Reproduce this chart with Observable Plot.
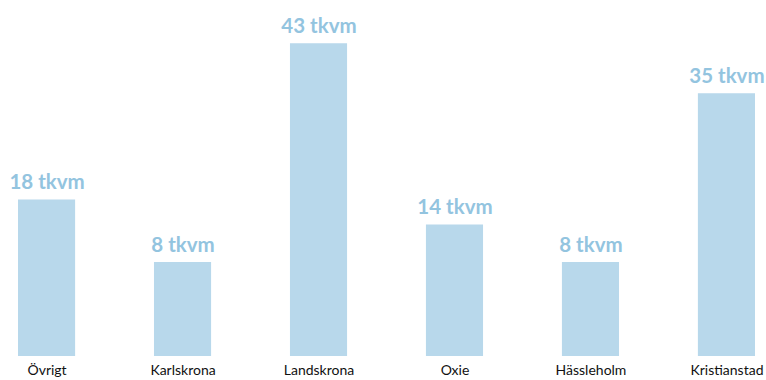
<!DOCTYPE html>
<html>
<head>
<meta charset="utf-8">
<script src="https://cdn.jsdelivr.net/npm/d3@7"></script>
<script src="https://cdn.jsdelivr.net/npm/@observablehq/plot@0.6"></script>
<style>
  html, body { margin: 0; padding: 0; background: #fff; }
  #chart svg { display: block; }
</style>
</head>
<body>
<div id="chart"></div>
<script>
// Lokalyta per ort, tusen kvadratmeter
const orter = ["Övrigt", "Karlskrona", "Landskrona", "Oxie", "Hässleholm", "Kristianstad"];
const yta = [18, 8, 43, 14, 8, 35];
const enhet = "tkvm";

const rows = orter.map((ort, i) => ({ort, yta: yta[i]}));

const chart = Plot.plot({
  width: 766,
  height: 380,
  marginLeft: 18,
  marginRight: 11,
  marginTop: 20,
  marginBottom: 24,
  style: {fontFamily: "Lato, sans-serif", background: "#fff"},
  x: {domain: orter, paddingInner: 0.58, paddingOuter: 0, round: false, label: null},
  y: {domain: [-7.04, 46.72], axis: null},
  marks: [
    Plot.barY(rows, {x: "ort", y1: -7.04, y2: "yta", fill: "#b8d8eb"}),
    Plot.text(rows, {
      x: "ort",
      y: "yta",
      text: d => `${d.yta} ${enhet}`,
      lineAnchor: "bottom",
      dy: -11,
      fill: "#93c4df",
      fontSize: 20.5,
      fontWeight: "bold"
    }),
    Plot.axisX({
      tickSize: 0,
      tickPadding: 9,
      fontSize: 14,
      fill: "#111",
      label: null
    })
  ]
});

document.getElementById("chart").appendChild(chart);
</script>
</body>
</html>
